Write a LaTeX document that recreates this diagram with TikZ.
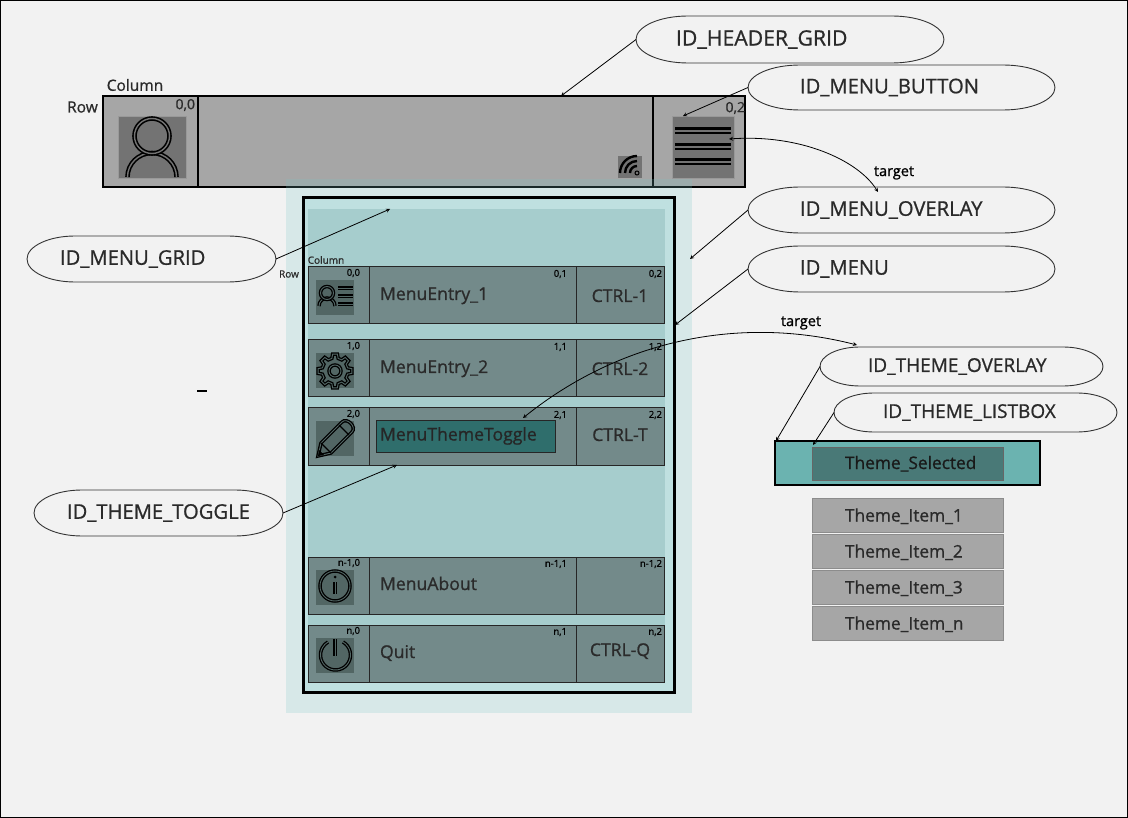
\documentclass[tikz,border=0pt]{standalone}
\usepackage{fontspec}
\setmainfont[FakeBold=0.9]{Open Sans}
\usetikzlibrary{arrows}
\definecolor{pagebg}{HTML}{F2F2F2}
\definecolor{cellgrey}{HTML}{A6A6A6}
\definecolor{icongrey}{HTML}{737373}
\definecolor{veil}{RGB}{119,195,195}
\definecolor{overlaybg}{HTML}{BFE0E0}
\definecolor{gridbg}{HTML}{A6CDCD}
\definecolor{rowbg}{HTML}{738A8A}
\definecolor{rowicon}{HTML}{526664}
\definecolor{togglebg}{HTML}{2F6E6C}
\definecolor{themebg}{HTML}{6BB3B0}
\definecolor{themesel}{HTML}{497977}
\definecolor{textdark}{HTML}{2A2A2A}
\tikzset{
  box/.style={rectangle,inner sep=0pt,outer sep=0pt,anchor=north west},
  blackcell/.style={box,draw=black,line width=1.6pt,fill=cellgrey},
  rowcell/.style={box,draw=black!85,line width=1pt,fill=rowbg,minimum height=57pt},
  itembox/.style={box,draw=black!45,line width=.8pt,fill=cellgrey,minimum height=34pt},
  idpill/.style={rectangle,inner ysep=0pt,outer sep=0pt,anchor=north west,align=left,text=textdark,font=\fontsize{20.2}{23}\selectfont},
  pillline/.style={line width=.9pt,draw=black!80},
  conn/.style={line width=.8pt,draw=black,-stealth},
  twoway/.style={line width=.8pt,draw=black,stealth-stealth},
  label/.style={inner sep=0pt,outer sep=0pt,text=textdark},
  smalllabel/.style={label,text=black,font=\fontsize{9.5}{11}\selectfont},
  rowtext/.style={label,anchor=base west,font=\fontsize{17.6}{21}\selectfont},
  themetext/.style={label,anchor=base west,font=\fontsize{17.3}{20}\selectfont},
  icon/.style={draw=black,line width=1.6pt,double=#1,double distance=1.4pt},
  icon/.default=icongrey
}
\begin{document}
\begin{tikzpicture}[x=1pt,y=-1pt]
\useasboundingbox (0,0) rectangle (1128,818);
\draw[fill=pagebg,line width=1pt] (0.5,0.5) rectangle (1127.5,817.5);

% header grid
\node[blackcell,minimum width=642pt,minimum height=91pt] (headergrid) at (103,96) {};
\draw[line width=1.6pt] (198,96)--(198,187);
\draw[line width=1.6pt] (653,96)--(653,187);
\node[box,fill=icongrey,draw=black!40,minimum width=68pt,minimum height=62pt] (usericon) at (118,116) {};
\node[box,fill=icongrey,draw=black!40,minimum width=62pt,minimum height=62pt] (menuicon) at (672,116) {};
\node[box,fill=icongrey,minimum width=24pt,minimum height=22pt] (wifiicon) at (618,156) {};
\draw[icon] (127.5,177) arc[start angle=180,end angle=0,x radius=24.5pt,y radius=24pt];
\draw[icon] (152,136) circle (17.5pt);
\foreach \y in {131,147,162}
  \draw[icon,line width=2.8pt,double distance=1.4pt] (675,\y)--(731,\y);
\foreach \r in {7,12,17}
  \draw[line width=2.4pt] (637,{173-\r}) arc[start angle=90,end angle=180,radius=\r pt];
\draw[line width=1pt] (637,173) circle (2pt);
\node[label,font=\fontsize{15.5}{18}\selectfont] (collabel) at (135,85) {Column};
\node[label,font=\fontsize{15.5}{18}\selectfont] (rowlabel) at (82.5,107) {Row};
\node[label,anchor=east,font=\fontsize{14}{16}\selectfont] (cellzero) at (195,105) {0,0};
\node[label,anchor=east,font=\fontsize{14}{16}\selectfont] (celltwo) at (745,108) {0,2};

% menu overlay
\node[box,fill=veil,fill opacity=.21,minimum width=406pt,minimum height=534pt] (veilbox) at (286,179) {};
\node[box,fill=overlaybg,draw=black,line width=3pt,minimum width=371pt,minimum height=494.5pt] (menuoverlay) at (303.5,198) {};
\node[box,fill=gridbg,minimum width=357pt,minimum height=473pt] (menugrid) at (308,209) {};
\node[smalllabel,text=textdark,font=\fontsize{10}{12}\selectfont] (gridcol) at (326,260) {Column};
\node[smalllabel,text=textdark,font=\fontsize{10}{12}\selectfont] (gridrow) at (289,274) {Row};

\foreach \i/\y/\r/\txt/\key/\ky in {a/267/0/MenuEntry\_1/CTRL-1/302,b/340/1/MenuEntry\_2/CTRL-2/375,c/408/2/{}/CTRL-T/441,d/557/n-1/MenuAbout/{}/590,e/625/n/Quit/CTRL-Q/656}{
  \node[rowcell,minimum width=61pt] (icon\i) at (308,\y) {};
  \node[rowcell,minimum width=207pt] (name\i) at (369,\y) {};
  \node[rowcell,minimum width=88pt] (key\i) at (576,\y) {};
  \node[box,fill=rowicon,minimum width=38pt,minimum height=35pt] (glyph\i) at (316,\y+13) {};
  \node[smalllabel,anchor=east] at (360,\y+6) {\r,0};
  \node[smalllabel,anchor=east] at (567,\y+7) {\r,1};
  \node[smalllabel,anchor=east] at (662,\y+7) {\r,2};
  \node[rowtext] at (380,\y+33) {\txt};
  \node[label,anchor=base,font=\fontsize{17.6}{21}\selectfont] at (620,\ky) {\key};
}
\node[box,fill=togglebg,draw=black!85,line width=1pt,minimum width=179pt,minimum height=31pt] (themetoggle) at (376,421) {};
\node[rowtext,text=black!85] (toggletext) at (380,440.5) {MenuThemeToggle};

% row glyphs
\begin{scope}[icon/.append style={line width=1.3pt,double distance=.9pt}]
\draw[icon=rowicon] (319,306) arc[start angle=180,end angle=0,x radius=8pt,y radius=8pt];
\draw[icon=rowicon] (327,293) circle (6.5pt);
\foreach \y in {288,296,304}
  \draw[icon=rowicon,line width=1.2pt,double distance=.7pt] (338,\y)--(353,\y);
\begin{scope}[shift={(335,371)}]
  \draw[icon=rowicon] (-14:13) \foreach \a in {0,45,...,315} {-- (\a-14:13) -- (\a-8:17) -- (\a+8:17) -- (\a+14:13)} -- cycle;
  \draw[icon=rowicon] (0,0) circle (6pt);
\end{scope}
\draw[icon=rowicon] (318,456) -- (321,443) -- (342,422) .. controls (347,417) and (357,427) .. (352,432) -- (331,453) -- cycle;
\draw[line width=1.2pt] (321,443)--(331,453);
\draw[line width=1.2pt] (339,425)--(349,435);
\fill (318,456)--(319,450)--(324,455)--cycle;
\draw[icon=rowicon] (335,586) circle (15pt);
\draw[icon=rowicon,double distance=.8pt] (335,582)--(335,594);
\fill (335,577) circle (1.5pt);
\draw[icon=rowicon] (343,642) arc[start angle=60,end angle=-240,radius=15pt];
\draw[icon=rowicon] (335,639)--(335,656);
\end{scope}

% theme list
\node[box,fill=themebg,draw=black,line width=1.6pt,minimum width=265pt,minimum height=44pt] (themeoverlay) at (775,441) {};
\node[box,fill=themesel,draw=black!60,line width=.8pt,minimum width=191pt,minimum height=33pt] (themelistbox) at (812,447) {};
\node[themetext,text=black!90] (themeselected) at (845,469) {Theme\_Selected};
\foreach \i/\y/\txt in {1/498/Theme\_Item\_1,2/534/Theme\_Item\_2,3/570/Theme\_Item\_3,n/606/Theme\_Item\_n}{
  \node[itembox,minimum width=191pt] (item\i) at (812,\y) {};
  \node[themetext] at (845,\y+23.5) {\txt};
}

% id labels
\foreach \n/\xa/\ya/\w/\h/\rx/\ins/\txt/\fs in {
  idheader/636/16/308/47/52/40/ID\_HEADER\_GRID/21.2,
  idbutton/748/65/307/45/52/52/ID\_MENU\_BUTTON/20.2,
  idoverlay/748/187/307/46/52/52/ID\_MENU\_OVERLAY/20.2,
  idmenu/748/246/307/46/52/52/ID\_MENU/20.2,
  idgrid/27/236/249/46/48/33/ID\_MENU\_GRID/20.2,
  idtoggle/34/490/249/46/48/33/ID\_THEME\_TOGGLE/20.2,
  idthemeoverlay/820/347/283/39/40/48/ID\_THEME\_OVERLAY/19,
  idthemelist/834/393/283/39/40/49/ID\_THEME\_LISTBOX/19}{
  \pgfmathsetmacro\tw{\w-2*\ins}
  \pgfmathsetmacro\ry{\h/2}
  \pgfmathsetmacro\bw{\w-2*\rx}
  \node[idpill,inner xsep=\ins pt,text width=\tw pt,minimum height=\h pt,font=\fontsize{\fs}{23}\selectfont] (\n) at (\xa,\ya) {\txt};
  \draw[pillline] (\n.west) arc[start angle=180,end angle=90,x radius=\rx pt,y radius=\ry pt] -- ++(\bw,0)
    arc[start angle=90,end angle=-90,x radius=\rx pt,y radius=\ry pt] -- ++(-\bw,0)
    arc[start angle=-90,end angle=-180,x radius=\rx pt,y radius=\ry pt];
}

% connectors
\coordinate (headertop) at (561,96);
\coordinate (menuicontop) at (683,116);
\coordinate (menuiconright) at (729,139);
\coordinate (overlaytip) at (878,192);
\coordinate (overlayedge) at (690,259);
\coordinate (menuedge) at (675,325);
\coordinate (gridtop) at (390,209);
\coordinate (rowbottom) at (397,465);
\coordinate (toggletop) at (523,418);
\coordinate (themetip) at (857,345);
\coordinate (themecorner) at (776,441);
\coordinate (listcorner) at (813,445);
\draw[conn] (idheader.west)--(headertop);
\draw[conn] (idbutton.west)--(menuicontop);
\draw[conn] (idoverlay.west)--(overlayedge);
\draw[conn] (idmenu.west)--(menuedge);
\draw[conn] (idgrid.east)--(gridtop);
\draw[conn] (idtoggle.east)--(rowbottom);
\draw[conn] (idthemeoverlay.west)--(themecorner);
\draw[conn] (idthemelist.west)--(listcorner);
\draw[twoway] (menuiconright) .. controls (800,134) and (858,160) .. (overlaytip);
\draw[twoway] (toggletop) .. controls (620,340) and (740,315) .. (themetip);
\node[label,text=black,font=\fontsize{14.5}{16}\selectfont] (targetone) at (894,173) {target};
\node[label,text=black,font=\fontsize{14.5}{16}\selectfont] (targettwo) at (801,323) {target};

% stray dash
\coordinate (dashleft) at (197,391);
\coordinate (dashright) at (207,391);
\draw[line width=1.5pt] (dashleft)--(dashright);
\end{tikzpicture}
\end{document}
